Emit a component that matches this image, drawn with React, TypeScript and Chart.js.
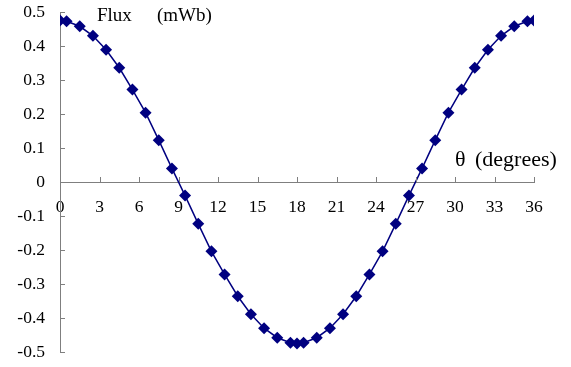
import React, { useEffect, useRef } from "react";
import { Chart, registerables } from "chart.js";

Chart.register(...registerables);

const thetaDegrees = [
  0, 0.5, 1.5, 2.5, 3.5, 4.5, 5.5, 6.5, 7.5, 8.5, 9.5, 10.5, 11.5, 12.5, 13.5, 14.5, 15.5, 16.5, 17.5,
  18, 18.5, 19.5, 20.5, 21.5, 22.5, 23.5, 24.5, 25.5, 26.5, 27.5, 28.5, 29.5, 30.5, 31.5, 32.5, 33.5,
  34.5, 35.5, 36,
];

const fluxMWb = [
  0.475, 0.473, 0.458, 0.43, 0.389, 0.336, 0.272, 0.204, 0.123, 0.04, -0.04, -0.123, -0.204, -0.272,
  -0.336, -0.389, -0.43, -0.458, -0.473, -0.475, -0.473, -0.458, -0.43, -0.389, -0.336, -0.272, -0.204,
  -0.123, -0.04, 0.04, 0.123, 0.204, 0.272, 0.336, 0.389, 0.43, 0.458, 0.473, 0.475,
];

const xTickStep = 3;
const yTickStep = 0.1;
const xRange = [0, 36];
const yRange = [-0.5, 0.5];

const yTitleParts = ["Flux", "(mWb)"];
const xTitleParts = ["θ", "(degrees)"];

const FONT = "'Liberation Serif', 'Times New Roman', serif";
const AXIS_COLOR = "#7f7f7f";
const SERIES_COLOR = "#000080";

export default function App() {
  const canvasRef = useRef<HTMLCanvasElement | null>(null);

  useEffect(() => {
    const canvas = canvasRef.current;
    if (!canvas) return;

    const tickMarks = {
      id: "tickMarks",
      afterDatasetsDraw(chart: any) {
        const { ctx, scales } = chart;
        const xs = scales.x;
        const ys = scales.y;
        const y0 = ys.getPixelForValue(0);
        const x0 = xs.getPixelForValue(xRange[0]);
        ctx.save();
        ctx.strokeStyle = AXIS_COLOR;
        ctx.lineWidth = 1;
        ctx.beginPath();
        xs.ticks.forEach((t: any) => {
          const px = Math.round(xs.getPixelForValue(t.value)) + 0.5;
          ctx.moveTo(px, y0);
          ctx.lineTo(px, y0 - 5);
        });
        ys.ticks.forEach((t: any) => {
          const py = Math.round(ys.getPixelForValue(t.value)) + 0.5;
          ctx.moveTo(x0, py);
          ctx.lineTo(x0 + 5, py);
        });
        ctx.stroke();
        ctx.restore();
      },
      afterDraw(chart: any) {
        const { ctx } = chart;
        ctx.save();
        ctx.fillStyle = "#000";
        ctx.textBaseline = "alphabetic";
        ctx.textAlign = "left";
        ctx.font = `19px ${FONT}`;
        ctx.fillText(yTitleParts[0], 97, 21);
        ctx.fillText(yTitleParts[1], 157, 21);
        ctx.font = `22px ${FONT}`;
        ctx.fillText(xTitleParts[0], 455, 166);
        ctx.fillText(xTitleParts[1], 475, 166);
        ctx.restore();
      },
    };

    const chart = new Chart(canvas, {
      type: "scatter",
      data: {
        datasets: [
          {
            data: thetaDegrees.map((t, i) => ({ x: t, y: fluxMWb[i] })),
            showLine: true,
            borderColor: SERIES_COLOR,
            backgroundColor: SERIES_COLOR,
            borderWidth: 1.5,
            pointStyle: "rectRot",
            pointRadius: 6,
            pointHoverRadius: 6,
            pointBorderWidth: 0,
            tension: 0,
          },
        ],
      },
      options: {
        responsive: false,
        animation: false,
        events: [],
        layout: { padding: { left: 0, top: 12, right: 37, bottom: 15 } },
        plugins: {
          legend: { display: false },
          tooltip: { enabled: false },
        },
        scales: {
          x: {
            type: "linear",
            min: xRange[0],
            max: xRange[1],
            position: { y: 0 } as any,
            grid: { display: false, drawTicks: false },
            border: { display: true, color: AXIS_COLOR, width: 1 },
            ticks: {
              stepSize: xTickStep,
              padding: 15,
              color: "#000",
              font: { family: FONT, size: 17.5 },
              maxRotation: 0,
              autoSkip: false,
            },
          },
          y: {
            type: "linear",
            position: "left",
            min: yRange[0],
            max: yRange[1],
            grid: { display: false, drawTicks: false },
            border: { display: true, color: AXIS_COLOR, width: 1 },
            ticks: {
              stepSize: yTickStep,
              padding: 15,
              color: "#000",
              font: { family: FONT, size: 17.5 },
              callback: (v: any) => {
                const n = Math.round(Number(v) * 10) / 10;
                return n === 0 ? "0" : n.toFixed(1);
              },
            },
            afterFit: (scale: any) => {
              scale.width = 60;
              scale.paddingTop = 0;
              scale.paddingBottom = 0;
            },
          },
        },
      },
      plugins: [tickMarks],
    });

    return () => chart.destroy();
  }, []);

  return (
    <div style={{ position: "fixed", left: 0, top: 0, width: 571, height: 367, background: "#fff" }}>
      <canvas ref={canvasRef} width={571} height={367} style={{ display: "block" }} />
    </div>
  );
}
